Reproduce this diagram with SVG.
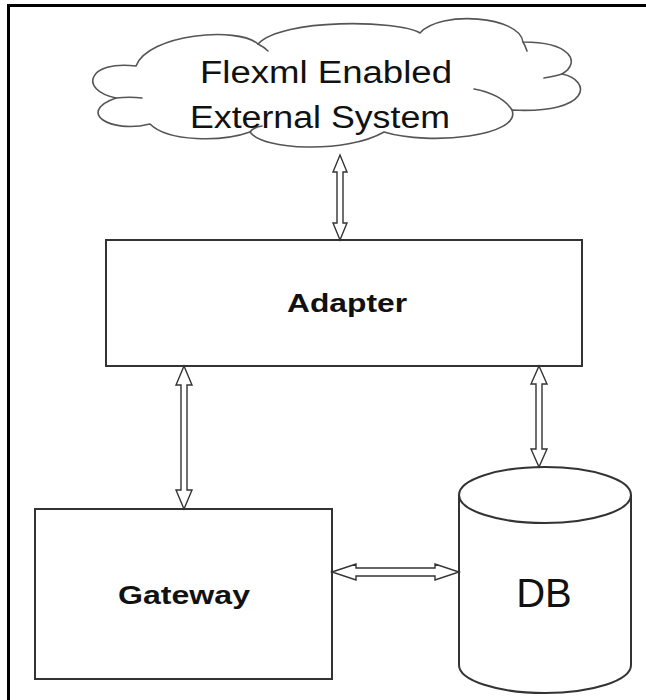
<svg xmlns="http://www.w3.org/2000/svg" width="646" height="700" viewBox="0 0 646 700">
<style>
.frame{fill:none;stroke:#000;stroke-width:3}
.box{fill:#fff;stroke:#333;stroke-width:2}
.cloud{fill:#fff;stroke:#555;stroke-width:1.6;stroke-linejoin:round}
.curl{fill:none;stroke:#555;stroke-width:1.6;stroke-linecap:round}
.arrow{fill:#fff;stroke:#333;stroke-width:1.4;stroke-linejoin:miter}
.t{font-family:"Liberation Sans",Arial,sans-serif;fill:#111;text-anchor:middle}
.b{font-weight:bold}
</style>
<rect width="646" height="700" fill="#fff"/>
<path class="frame" d="M8.5,700 V5.5 H646"/>
<g id="cloud">
<path class="cloud" d="M150,124 C110,134 76,112 116,98 C78,90 88,60 136,66 C148,34 238,26 258,44 C282,18 398,20 420,33 C440,10 520,16 523,42 C570,42 582,62 562,74 C592,80 592,114 512,110 C522,136 430,146 384,132 C346,154 262,150 250,132 C222,142 168,142 150,124 Z"/>
<path class="curl" d="M116,98 C125,97 134,97 142,98"/>
<path class="curl" d="M258,44 C262,46 265,48 268,51"/>
<path class="curl" d="M523,42 C525,45 526,48 527,51"/>
<path class="curl" d="M562,74 C556,76 550,77 544,78"/>
<path class="curl" d="M512,110 C505,99 490,92 474,89"/>
<path class="curl" d="M250,132 C252,129 256,127 262,126"/>
<text class="t" x="326" y="83" font-size="31" textLength="252" lengthAdjust="spacingAndGlyphs">Flexml Enabled</text>
<text class="t" x="320" y="128" font-size="31" textLength="260" lengthAdjust="spacingAndGlyphs">External System</text>
</g>
<g id="adapter">
<rect class="box" x="106" y="240" width="476" height="126"/>
<text class="t b" x="347" y="312" font-size="26" textLength="120" lengthAdjust="spacingAndGlyphs">Adapter</text>
</g>
<g id="gateway">
<rect class="box" x="35" y="509" width="297" height="170"/>
<text class="t b" x="184" y="604" font-size="26" textLength="132" lengthAdjust="spacingAndGlyphs">Gateway</text>
</g>
<g id="db">
<path class="box" d="M459,495 V665 A86,28 0 0 0 631,665 V495"/>
<ellipse class="box" cx="545" cy="495" rx="86" ry="28"/>
<text class="t" x="544" y="607" font-size="40">DB</text>
</g>
<g id="connectors">
<polygon class="arrow" points="340,155 347,172 343,172 343,223 347,223 340,240 333,223 337,223 337,172 333,172"/>
<polygon class="arrow" points="184,366 192,385 187,385 187,490 192,490 184,509 176,490 181,490 181,385 176,385"/>
<polygon class="arrow" points="539,366 547,384 542,384 542,449 547,449 539,467 531,449 536,449 536,384 531,384"/>
<polygon class="arrow" points="332,572 356,564 356,568 435,568 435,564 459,572 435,580 435,576 356,576 356,580"/>
</g>
</svg>
